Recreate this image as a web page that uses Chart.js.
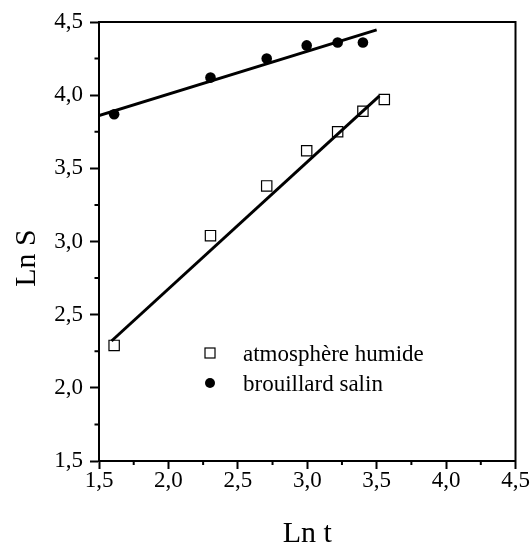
<!DOCTYPE html>
<html>
<head>
<meta charset="utf-8">
<script src="https://cdn.jsdelivr.net/npm/chart.js@4.4.0/dist/chart.umd.min.js"></script>
<style>
  html, body { margin: 0; padding: 0; background: #fff; }
  #wrap { width: 530px; height: 545px; }
</style>
</head>
<body>
<div id="wrap"><canvas id="chart" width="530" height="545"></canvas></div>
<script>
// ── data ──────────────────────────────────────────────────────────────────────

var lnT      = [1.609, 2.303, 2.708, 2.996, 3.219, 3.401, 3.555];
var humide   = [2.29, 3.04, 3.38, 3.62, 3.75, 3.89, 3.97];
var salin    = [3.87, 4.12, 4.25, 4.34, 4.36, 4.36];

var fitHumideX = [1.59, 3.52];
var fitHumideY = [2.32, 3.995];
var fitSalinX  = [1.5, 3.5];
var fitSalinY  = [3.861, 4.446];

var xTicks = [1.5, 2.0, 2.5, 3.0, 3.5, 4.0, 4.5];
var yTicks = [1.5, 2.0, 2.5, 3.0, 3.5, 4.0, 4.5];

var legendLabels = ["atmosphère humide", "brouillard salin"];
var xTitle = "Ln t";
var yTitle = "Ln S";

// ── helpers ───────────────────────────────────────────────────────────────────

var SERIF = "'Liberation Serif', 'Times New Roman', serif";

function pts(xs, ys) {
  return ys.map(function(y, i) { return { x: xs[i], y: y }; });
}

function fmt(v) {
  return v.toFixed(1).replace(".", ",");
}

// frame, minor ticks, titles and the legend
var decor = {
  id: "decor",
  afterDraw: function(c) {
    var ctx = c.ctx, a = c.chartArea;
    var sx = c.scales.x, sy = c.scales.y;
    ctx.save();
    ctx.strokeStyle = "#000";
    ctx.lineWidth = 2;
    ctx.strokeRect(a.left, a.top, a.right - a.left, a.bottom - a.top);

    // minor ticks halfway between the major ones
    ctx.beginPath();
    for (var i = 0; i < xTicks.length - 1; i++) {
      var px = sx.getPixelForValue((xTicks[i] + xTicks[i + 1]) / 2);
      ctx.moveTo(px, a.bottom);
      ctx.lineTo(px, a.bottom + 4);
    }
    for (var j = 0; j < yTicks.length - 1; j++) {
      var py = sy.getPixelForValue((yTicks[j] + yTicks[j + 1]) / 2);
      ctx.moveTo(a.left, py);
      ctx.lineTo(a.left - 4.5, py);
    }
    ctx.stroke();

    // axis titles
    ctx.fillStyle = "#000";
    ctx.font = "30px " + SERIF;
    ctx.textAlign = "center";
    ctx.textBaseline = "alphabetic";
    ctx.fillText(xTitle, (a.left + a.right) / 2, 541.5);
    ctx.save();
    ctx.translate(35, 258);
    ctx.rotate(-Math.PI / 2);
    ctx.fillText(yTitle, 0, 0);
    ctx.restore();

    // legend
    var lx = 210, ly = [353, 383];
    ctx.lineWidth = 1.2;
    ctx.strokeRect(lx - 5, ly[0] - 5, 10, 10);
    ctx.beginPath();
    ctx.arc(lx, ly[1], 5, 0, Math.PI * 2);
    ctx.fill();
    ctx.font = "23px " + SERIF;
    ctx.textAlign = "left";
    ctx.fillText(legendLabels[0], 243, ly[0] + 8);
    ctx.fillText(legendLabels[1], 243, ly[1] + 8);
    ctx.restore();
  }
};

// ── chart ─────────────────────────────────────────────────────────────────────

var ctx = document.getElementById("chart").getContext("2d");
var chart = new Chart(ctx, {
  type: "scatter",
  data: {
    datasets: [
      {
        label: legendLabels[0],
        data: pts(lnT, humide),
        pointStyle: "rect",
        pointRadius: 7.3,
        borderColor: "#000",
        backgroundColor: "rgba(0,0,0,0)",
        borderWidth: 1.2
      },
      {
        label: legendLabels[1],
        data: pts(lnT, salin),
        pointStyle: "circle",
        pointRadius: 5.3,
        borderColor: "#000",
        backgroundColor: "#000",
        borderWidth: 0
      },
      {
        type: "line",
        data: pts(fitHumideX, fitHumideY),
        borderColor: "#000",
        borderWidth: 3,
        pointRadius: 0,
        showLine: true
      },
      {
        type: "line",
        data: pts(fitSalinX, fitSalinY),
        borderColor: "#000",
        borderWidth: 3,
        pointRadius: 0,
        showLine: true
      }
    ]
  },
  options: {
    responsive: false,
    animation: false,
    layout: { padding: { top: 22, right: 14.5, left: 0, bottom: 0 } },
    plugins: {
      legend: { display: false },
      tooltip: { enabled: false }
    },
    scales: {
      x: {
        type: "linear",
        min: 1.5,
        max: 4.5,
        afterFit: function(s) { s.height = 84; },
        afterBuildTicks: function(s) { s.ticks = xTicks.map(function(v) { return { value: v }; }); },
        ticks: {
          color: "#000",
          padding: 0,
          font: { family: SERIF, size: 23, lineHeight: 1 },
          maxRotation: 0,
          autoSkip: false,
          callback: function(v) { return fmt(v); }
        },
        grid: { drawOnChartArea: false, tickLength: 8, tickWidth: 2, tickColor: "#000" },
        border: { color: "#000", width: 2 }
      },
      y: {
        type: "linear",
        min: 1.5,
        max: 4.5,
        afterFit: function(s) { s.width = 99; },
        afterBuildTicks: function(s) { s.ticks = yTicks.map(function(v) { return { value: v }; }); },
        ticks: {
          color: "#000",
          padding: 7,
          font: { family: SERIF, size: 23, lineHeight: 1 },
          autoSkip: false,
          callback: function(v) { return fmt(v); }
        },
        grid: { drawOnChartArea: false, tickLength: 9, tickWidth: 2, tickColor: "#000" },
        border: { color: "#000", width: 2 }
      }
    }
  },
  plugins: [decor]
});
</script>
</body>
</html>
